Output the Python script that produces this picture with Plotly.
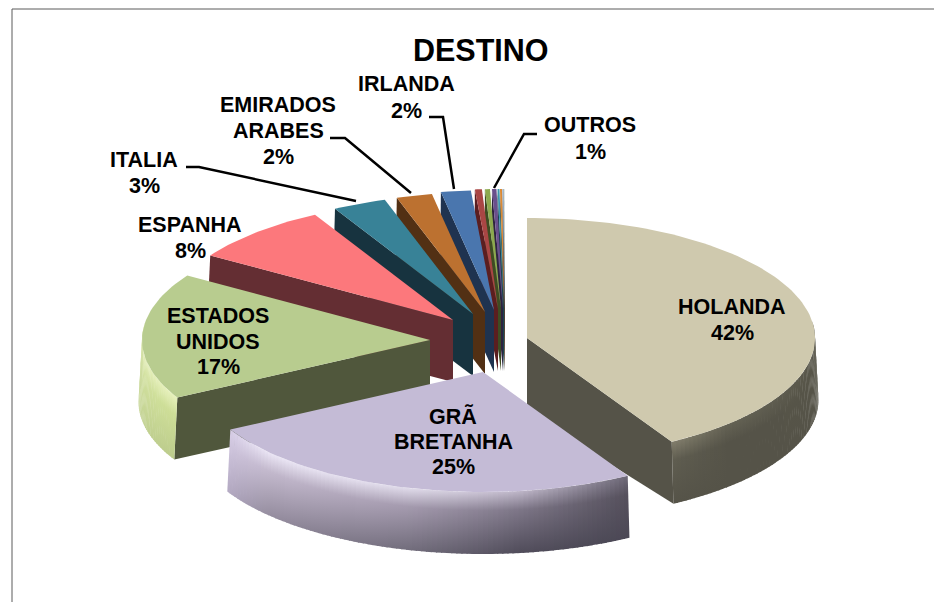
import math
import plotly.graph_objects as go

# ---- data ----
categories = ["HOLANDA", "GRÃ BRETANHA", "ESTADOS UNIDOS", "ESPANHA", "ITALIA",
              "EMIRADOS ARABES", "IRLANDA"]
values = [41.6, 25.4, 17, 8, 3, 2, 1.67]
outros_name = "OUTROS"
outros_parts = [0.39, 0.28, 0.25, 0.11, 0.11, 0.05, 0.05, 0.04]   # unlabeled slivers grouped as OUTROS
title_text = "DESTINO"

# ---- styling ----
top_colors = ["#CFC9AE", "#C4BBD6", "#B8CC8F", "#FC787C", "#388297", "#BC7130", "#4A76AE"]
side_colors = ["#555348", "#4A4658", "#50573C", "#642E33", "#17333F", "#523014", "#1F3350"]
part_top = ["#A94644", "#8CA94E", "#6A4F8C", "#3D96AE", "#DB8A34", "#7F9AC0", "#A0B0A0", "#B8C0D0"]
part_side = ["#5B1E20", "#3E4C22", "#2E2340", "#1A4350", "#5E3B16", "#3C4452", "#454A44", "#50545C"]

# explosion: where each slice's tip sits on the page
tip_x = [527, 483, 430, 453, 473, 485, 494, 498, 501, 503, 504, 504.5, 505, 505, 505]
tip_y = [338, 372, 340, 320, 314, 312, 310, 309, 309, 309, 309, 309, 309, 309, 309]
RX, RY, DEPTH, BOTTOM_SCALE = 288, 120, 62, 1.012
HOLANDA_TIP_DEPTH = 74   # perspective makes the inner edge of this slice look taller

# rim shading: (position along rim, top colour, middle colour, bottom colour)
rim_shades = {
    "GRÃ BRETANHA": [
        (0.00, (215, 205, 230), (205, 195, 220), (180, 170, 195)),
        (0.15, (235, 230, 245), (195, 185, 205), (150, 142, 160)),
        (0.50, (225, 220, 235), (165, 155, 175), (115, 110, 125)),
        (0.75, (190, 182, 200), (125, 118, 135), (80, 76, 90)),
        (1.00, (110, 105, 120), (85, 80, 92), (75, 72, 85)),
    ],
    "ESTADOS UNIDOS": [
        (0.00, (222, 232, 178), (212, 225, 165), (200, 215, 152)),
        (1.00, (232, 242, 190), (205, 222, 150), (188, 204, 140)),
    ],
    "HOLANDA": [
        (0.00, (110, 108, 95), (100, 98, 86), (135, 135, 125)),
        (0.25, (88, 86, 74), (86, 84, 72), (85, 83, 72)),
        (0.80, (100, 98, 84), (85, 83, 72), (85, 83, 72)),
        (1.00, (130, 126, 108), (95, 93, 80), (85, 83, 72)),
    ],
}
rim_dir = {"GRÃ BRETANHA": -1, "ESTADOS UNIDOS": -1, "HOLANDA": 1}

# label lines and their centres on the page
label_pos = {
    "HOLANDA": (732, [307, 333]),
    "GRÃ BRETANHA": (453, [416, 442, 467]),
    "ESTADOS UNIDOS": (218, [316, 342, 367]),
    "ESPANHA": (190, [225, 251]),
    "ITALIA": (144, [160, 186]),
    "EMIRADOS ARABES": (278, [105, 131, 157]),
    "IRLANDA": (406, [84, 111]),
    "OUTROS": (590, [125, 152]),
}
label_lines = {"GRÃ BRETANHA": ["GRÃ", "BRETANHA"], "ESTADOS UNIDOS": ["ESTADOS", "UNIDOS"],
               "EMIRADOS ARABES": ["EMIRADOS", "ARABES"]}
leaders = [
    [(186, 167), (199, 167), (356, 201)],
    [(330, 138), (345, 138), (411, 193)],
    [(429, 117), (443, 117), (454, 189)],
    [(537, 134), (524, 134), (494, 188)],
]
FONT = "Liberation Sans, Arial, sans-serif"

# ---- geometry from the values ----
names = categories + [outros_name] + [f"{outros_name} {i + 2}" for i in range(len(outros_parts) - 1)]
vals = values + outros_parts
tops = top_colors + part_top
sides = side_colors + part_side
total = sum(vals)
slices = []
angle = 0.0
for i, (n, v) in enumerate(zip(names, vals)):
    sweep = v / total * 360
    slices.append(dict(name=n, a0=angle, a1=angle + sweep, tx=tip_x[i], ty=tip_y[i],
                       top=tops[i], side=sides[i],
                       tip_depth=HOLANDA_TIP_DEPTH if i == 0 else DEPTH))
    angle += sweep


def rim(s, deg, lower=False):
    r = math.radians(deg)
    k = BOTTOM_SCALE if lower else 1
    return (s["tx"] + RX * k * math.sin(r), s["ty"] - RY * math.cos(r) + (DEPTH if lower else 0))


def arc(a, b, n):
    return [a + (b - a) * j / n for j in range(n + 1)]


def mix(a, b, t):
    return tuple(a[i] + (b[i] - a[i]) * t for i in range(3))


def shade(stops, t):
    for p, q in zip(stops, stops[1:]):
        if t <= q[0]:
            f = (t - p[0]) / (q[0] - p[0])
            return tuple(mix(p[k], q[k], f) for k in (1, 2, 3))
    return stops[-1][1:]


def css(c):
    return "rgb(%d,%d,%d)" % tuple(round(x) for x in c)


fig = go.Figure()


def poly(pts, color, name, gradient=None, span=None):
    xs = [p[0] for p in pts] + [pts[0][0]]
    ys = [p[1] for p in pts] + [pts[0][1]]
    kw = dict(fillcolor=color) if gradient is None else dict(
        fillgradient=dict(type="vertical", colorscale=gradient, start=span[0], stop=span[1]))
    fig.add_trace(go.Scatter(x=xs, y=ys, mode="lines", fill="toself", line=dict(width=0),
                             name=name, showlegend=False, hoverinfo="name", **kw))


def draw_slice(s):
    a0, a1 = s["a0"], s["a1"]
    tip_top = (s["tx"], s["ty"])
    tip_low = (s["tx"], s["ty"] + s["tip_depth"])
    # visible cut faces
    if math.cos(math.radians(a0 - 90)) < 0:
        poly([tip_top, rim(s, a0), rim(s, a0, True), tip_low], s["side"], s["name"])
    if math.cos(math.radians(a1 + 90)) < 0:
        poly([tip_top, rim(s, a1), rim(s, a1, True), tip_low], s["side"], s["name"])
    # outer rim, shaded in narrow strips
    lo, hi = max(a0, 82), min(a1, 278)
    if lo < hi and s["name"] in rim_shades:
        steps = max(2, int((hi - lo) / 1.0))
        stops = rim_shades[s["name"]]
        for j in range(steps):
            b0 = lo + (hi - lo) * j / steps
            b1 = min(lo + (hi - lo) * (j + 1) / steps + 0.25, hi)
            mid = (b0 + b1) / 2
            t = (mid - lo) / (hi - lo)
            if rim_dir[s["name"]] < 0:
                t = 1 - t
            c_top, c_mid, c_bot = shade(stops, t)
            grad = [[0, css(c_top)], [0.3, css(c_mid)], [1, css(c_bot)]]
            pts = [rim(s, d) for d in arc(b0, b1, 2)] + [rim(s, d, True) for d in arc(b1, b0, 2)]
            poly(pts, None, s["name"], gradient=grad, span=(rim(s, mid)[1], rim(s, mid, True)[1]))
    # top face
    n = max(3, int((a1 - a0) / 1.5))
    poly([tip_top] + [rim(s, d) for d in arc(a0, a1, n)], s["top"], s["name"])


# paint from back to front
order = list(range(len(slices) - 1, 2, -1)) + [2, 0, 1]
for i in order:
    draw_slice(slices[i])

# ---- texts ----
annotations = [dict(x=481, y=50, text=f"<b>{title_text}</b>", showarrow=False, xanchor="center",
                    yanchor="middle", font=dict(family=FONT, size=30.5, color="#000000"))]
shown = list(zip(categories, values)) + [(outros_name, sum(outros_parts))]
for name, v in shown:
    lines = label_lines.get(name, [name]) + [f"{round(v)}%"]
    x, ys = label_pos[name]
    for txt, y in zip(lines, ys):
        annotations.append(dict(x=x, y=y, text=f"<b>{txt}</b>", showarrow=False, xanchor="center",
                                yanchor="middle", font=dict(family=FONT, size=21.5, color="#000000")))

shapes = []
for pts in leaders:
    path = "M " + " L ".join(f"{x},{y}" for x, y in pts)
    shapes.append(dict(type="path", path=path, line=dict(color="#000000", width=2.5), layer="above"))
# chart frame (top and left edges visible)
shapes.append(dict(type="path", path="M 12,602 L 12,9 L 934,9", line=dict(color="#5A5A5A", width=1), layer="below"))

fig.update_layout(
    width=934, height=602, margin=dict(l=0, r=0, t=0, b=0),
    paper_bgcolor="#FFFFFF", plot_bgcolor="#FFFFFF", showlegend=False,
    xaxis=dict(range=[0, 934], visible=False, fixedrange=True),
    yaxis=dict(range=[602, 0], visible=False, fixedrange=True),
    annotations=annotations, shapes=shapes,
)
fig.write_html("out.html", config={"displayModeBar": False},
               post_script="document.documentElement.style.overflow='hidden';document.body.style.margin='0';")
